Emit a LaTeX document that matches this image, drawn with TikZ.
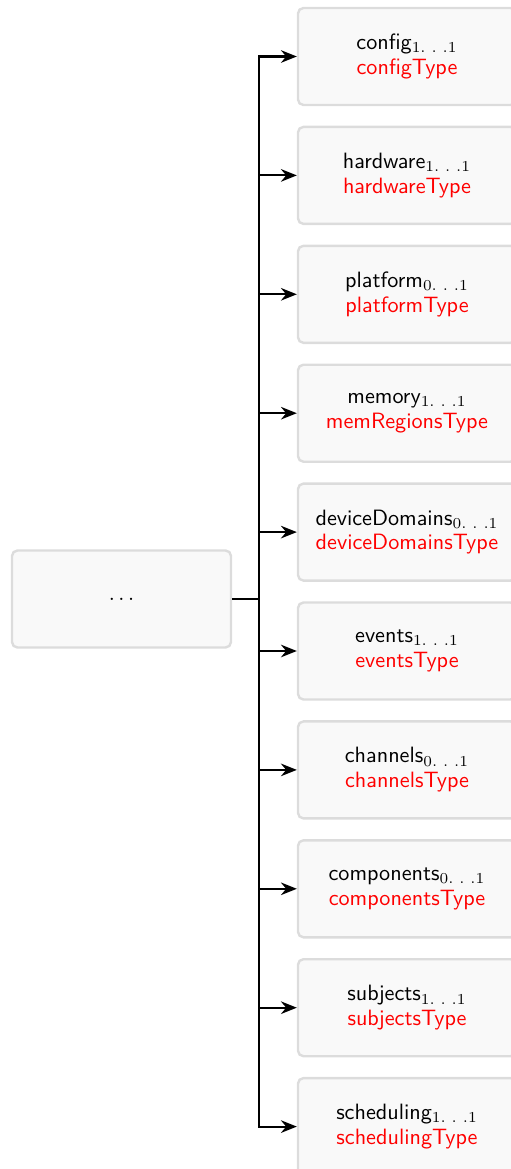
\documentclass[tikz,border=0pt]{standalone}
\usetikzlibrary{arrows.meta}
\definecolor{boxfill}{HTML}{F9F9F9}
\definecolor{boxline}{HTML}{DCDCDC}
\definecolor{typered}{HTML}{FF0000}
\begin{document}
\begin{tikzpicture}[x=0.46pt,y=-0.46pt,
  elem/.style={draw=boxline, fill=boxfill, line width=1.1pt, rounded corners=2.5pt,
    minimum width=218*0.46pt, minimum height=97*0.46pt, inner sep=0pt,
    align=center, font=\fontsize{10.2}{12.4}\selectfont\sffamily},
  wire/.style={line width=0.95pt},
  link/.style={wire, -{Stealth[length=7.3pt,width=5.8pt,inset=2.4pt]}}]
\useasboundingbox (0,0) rectangle (510,1169);
% parent element
\node[elem, minimum width=219*0.46pt] (root) at (121.5,599) {$\ldots$};
\coordinate (bus) at (259,599);
\draw[line width=1.25pt] (root.east) -- (bus);
% child elements with multiplicity and type
\foreach \name/\lo/\hi/\type [count=\i from 0] in {
    config/1/1/configType,
    hardware/1/1/hardwareType,
    platform/0/1/platformType,
    memory/1/1/memRegionsType,
    deviceDomains/0/1/deviceDomainsType,
    events/1/1/eventsType,
    channels/0/1/channelsType,
    components/0/1/componentsType,
    subjects/1/1/subjectsType,
    scheduling/1/1/schedulingType}{
  \node[elem] (\name) at (407,56.5+118.9*\i)
    {\raisebox{0pt}{\name$_{\textstyle\scriptstyle\lo.\mkern6mu.\mkern6mu.\hi}$}\\[-1pt]\textcolor{typered}{\type}};
}
\draw[link] (bus) |- (config.west);
\draw[link] (bus) |- (scheduling.west);
\foreach \name in {hardware,platform,memory,deviceDomains,events,channels,components,subjects}
  \draw[link] (bus |- \name.west) -- (\name.west);
\end{tikzpicture}
\end{document}
